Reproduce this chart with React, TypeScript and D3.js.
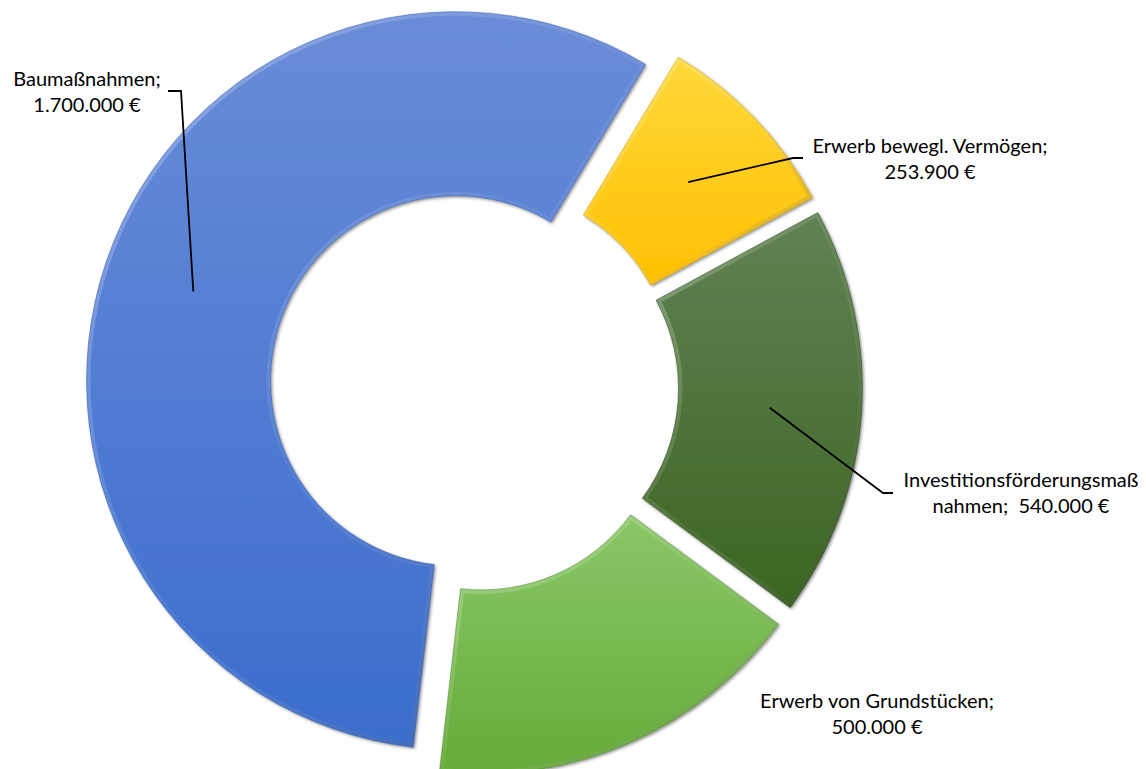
import React from "react";
import * as d3 from "d3";

// ---- data ----
const categories = [
  "Erwerb bewegl. Vermögen",
  "Investitionsförderungsmaßnahmen",
  "Erwerb von Grundstücken",
  "Baumaßnahmen",
];
const values = [253900, 540000, 500000, 1700000];

// ---- layout / style ----
const W = 1146;
const H = 769;
const CX = 474;
const CY = 387;
const R_OUT = 369;
const R_IN = 185;
const EXPLODE = 19.5;
const START_DEG = 31;
const FONT = "Lato, 'Open Sans', sans-serif";
const FONT_SIZE = 20;
const LINE_GAP = 26;

const GRADS = [
  { top: "#FFD83A", bottom: "#FFC000", edge: "#C79600" },
  { top: "#618254", bottom: "#3C6521", edge: "#2B4A17" },
  { top: "#8AC767", bottom: "#66AB3A", edge: "#4A8426" },
  { top: "#6A8CD8", bottom: "#3A6DCD", edge: "#2C56A8" },
];

// label layout: centre x, first baseline, leader elbow & end (null = no leader)
const LABEL_LAYOUT = [
  { x: 930, y: 153, elbow: [793, 158], end: [803, 158] },
  { x: 1021, y: 487, elbow: [883, 493], end: [893, 493] },
  { x: 877, y: 708, elbow: null, end: null },
  { x: 87, y: 86, elbow: [181, 91], end: [168, 91] },
];

const locale = d3.formatLocale({
  decimal: ",",
  thousands: ".",
  grouping: [3],
  currency: ["", " €"],
});
const fmt = locale.format(",.0f");

function labelLines(cat: string, v: number): string[] {
  if (cat.length > 26) {
    return [cat.slice(0, 25), `${cat.slice(25)};  ${fmt(v)} €`];
  }
  return [`${cat};`, `${fmt(v)} €`];
}

export default function App() {
  const pie = d3
    .pie<number>()
    .sort(null)
    .value((d) => d)
    .startAngle((START_DEG * Math.PI) / 180)
    .endAngle((START_DEG * Math.PI) / 180 + 2 * Math.PI);
  const arcs = pie(values);
  const arc = d3
    .arc<d3.PieArcDatum<number>>()
    .innerRadius(R_IN)
    .outerRadius(R_OUT);

  return (
    <svg
      width={W}
      height={H}
      style={{ position: "absolute", left: 0, top: 0, background: "#fff" }}
    >
      <defs>
        {GRADS.map((g, i) => (
          <linearGradient key={i} id={`g${i}`} x1="0" y1="0" x2="0" y2="1">
            <stop offset="0" stopColor={g.top} />
            <stop offset="1" stopColor={g.bottom} />
          </linearGradient>
        ))}
        <linearGradient id="bevel" x1="0" y1="0" x2="1" y2="1">
          <stop offset="0" stopColor="#fff" stopOpacity="0.3" />
          <stop offset="0.5" stopColor="#fff" stopOpacity="0.05" />
          <stop offset="1" stopColor="#000" stopOpacity="0.3" />
        </linearGradient>
        <filter id="shadow" x="-10%" y="-10%" width="120%" height="120%">
          <feDropShadow dx="1.5" dy="1.5" stdDeviation="1.5" floodColor="#000" floodOpacity="0.45" />
        </filter>
        {arcs.map((a, i) => (
          <clipPath key={i} id={`c${i}`}>
            <path d={arc(a) || ""} />
          </clipPath>
        ))}
      </defs>
      {arcs.map((a, i) => {
        const mid = (a.startAngle + a.endAngle) / 2;
        const ox = CX + EXPLODE * Math.sin(mid);
        const oy = CY - EXPLODE * Math.cos(mid);
        const p = arc(a) || "";
        return (
          <g key={i} transform={`translate(${ox},${oy})`}>
            <path d={p} fill={`url(#g${i})`} filter="url(#shadow)" />
            <path
              d={p}
              fill="none"
              stroke="url(#bevel)"
              strokeWidth={8}
              clipPath={`url(#c${i})`}
            />
            <path d={p} fill="none" stroke={GRADS[i].edge} strokeWidth={0.8} strokeOpacity={0.6} />
          </g>
        );
      })}
      {arcs.map((a, i) => {
        const L = LABEL_LAYOUT[i];
        if (!L.elbow || !L.end) return null;
        const mid = (a.startAngle + a.endAngle) / 2;
        const ox = CX + EXPLODE * Math.sin(mid);
        const oy = CY - EXPLODE * Math.cos(mid);
        const [cx, cy] = arc.centroid(a);
        const pts: [number, number][] = [
          [cx + ox, cy + oy],
          L.elbow as [number, number],
          L.end as [number, number],
        ];
        return (
          <path
            key={i}
            d={d3.line()(pts) || ""}
            fill="none"
            stroke="#000"
            strokeWidth={1.8}
          />
        );
      })}
      {categories.map((c, i) => {
        const L = LABEL_LAYOUT[i];
        const lines = labelLines(c, values[i]);
        return (
          <text
            key={i}
            x={L.x}
            y={L.y}
            textAnchor="middle"
            fontFamily={FONT}
            fontSize={FONT_SIZE}
            fill="#000"
          >
            {lines.map((t, j) => (
              <tspan key={j} x={L.x} dy={j === 0 ? 0 : LINE_GAP} xmlSpace="preserve">
                {t}
              </tspan>
            ))}
          </text>
        );
      })}
    </svg>
  );
}
